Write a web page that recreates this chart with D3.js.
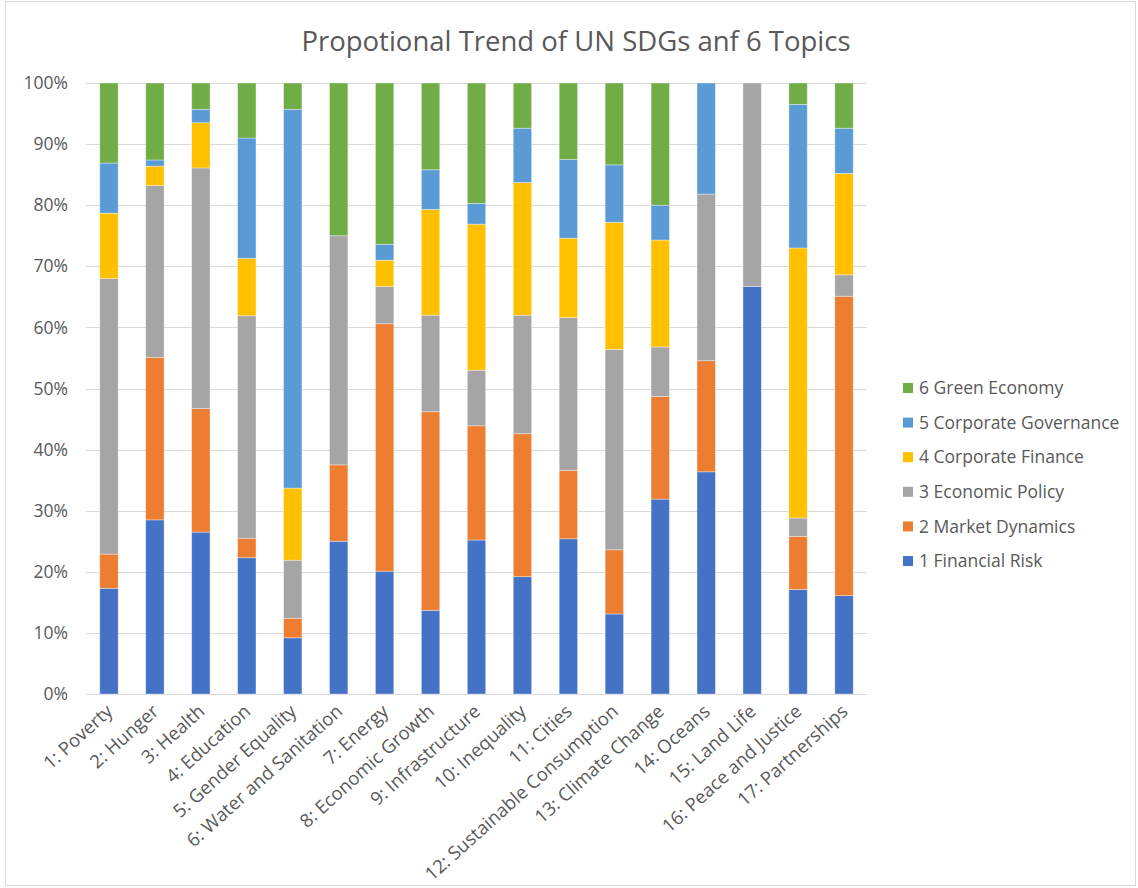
<!DOCTYPE html>
<html>
<head>
<meta charset="utf-8">
<script src="https://cdn.jsdelivr.net/npm/d3@7"></script>
<style>
  html, body { margin: 0; padding: 0; background: #fff; }
  svg { display: block; }
  text { font-family: "Open Sans", "Noto Sans", sans-serif; fill: #595959; }
</style>
</head>
<body>
<svg id="chart" width="1138" height="888"></svg>
<script>
// SDG categories along the x axis
const goals = [
  "1: Poverty", "2: Hunger", "3: Health", "4: Education", "5: Gender Equality",
  "6: Water and Sanitation", "7: Energy", "8: Economic Growth", "9: Infrastructure",
  "10: Inequality", "11: Cities", "12: Sustainable Consumption", "13: Climate Change",
  "14: Oceans", "15: Land Life", "16: Peace and Justice", "17: Partnerships"
];

// Topic series, stacked bottom to top (share of each SDG, %)
const topics = [
  "1 Financial Risk", "2 Market Dynamics", "3 Economic Policy",
  "4 Corporate Finance", "5 Corporate Governance", "6 Green Economy"
];
const financialRisk    = [17.3, 28.5, 26.5, 22.3,  9.2, 25.0, 20.1, 13.7, 25.2, 19.2, 25.4, 13.1, 31.9, 36.4, 66.7, 17.1, 16.1];
const marketDynamics   = [ 5.6, 26.6, 20.2,  3.2,  3.2, 12.5, 40.5, 32.5, 18.7, 23.4, 11.2, 10.5, 16.8, 18.2,  0.0,  8.7, 49.0];
const economicPolicy   = [45.1, 28.1, 39.4, 36.4,  9.5, 37.5,  6.1, 15.8,  9.1, 19.4, 25.0, 32.8,  8.1, 27.3, 33.3,  3.0,  3.5];
const corporateFinance = [10.7,  3.2,  7.4,  9.4, 11.8,  0.0,  4.3, 17.3, 23.9, 21.7, 13.0, 20.8, 17.5,  0.0,  0.0, 44.2, 16.6];
const corporateGov     = [ 8.2,  1.0,  2.2, 19.7, 62.0,  0.0,  2.6,  6.5,  3.4,  8.9, 12.9,  9.4,  5.7, 18.2,  0.0, 23.5,  7.4];
const greenEconomy     = [13.1, 12.6,  4.3,  9.0,  4.3, 25.0, 26.4, 14.2, 19.7,  7.4, 12.5, 13.4, 20.0,  0.0,  0.0,  3.5,  7.4];

const yTicks = [0, 0.1, 0.2, 0.3, 0.4, 0.5, 0.6, 0.7, 0.8, 0.9, 1.0];
const colors = ["#4472C4", "#ED7D31", "#A5A5A5", "#FFC000", "#5B9BD5", "#70AD47"];
const title = "Propotional Trend of UN SDGs anf 6 Topics";

const seriesValues = [financialRisk, marketDynamics, economicPolicy, corporateFinance, corporateGov, greenEconomy];
const rows = goals.map((g, i) => {
  const r = { goal: g };
  topics.forEach((t, k) => { r[t] = seriesValues[k][i]; });
  return r;
});

const svg = d3.select("#chart");
const W = 1138, H = 888;
const plot = { left: 86, right: 867, top: 83, bottom: 694 };
const fontFamily = '"Open Sans", "Noto Sans", sans-serif';

// outer chart border
svg.append("rect")
  .attr("x", 5.5).attr("y", 1.5)
  .attr("width", W - 8).attr("height", H - 4)
  .attr("fill", "none").attr("stroke", "#d9d9d9");

const x = d3.scaleBand().domain(goals).range([plot.left, plot.right]).paddingInner(0.6).paddingOuter(0.3);
const y = d3.scaleLinear().domain([0, 1]).range([plot.bottom, plot.top]);

const stacked = d3.stack().keys(topics).offset(d3.stackOffsetExpand)(rows);

// gridlines
svg.append("g")
  .selectAll("line")
  .data(yTicks)
  .join("line")
  .attr("x1", plot.left).attr("x2", plot.right)
  .attr("y1", d => Math.round(y(d)) + 0.5).attr("y2", d => Math.round(y(d)) + 0.5)
  .attr("stroke", "#d9d9d9").attr("stroke-width", 1);

// y axis labels
const yAxis = d3.axisLeft(y).tickValues(yTicks).tickFormat(d3.format(".0%")).tickSize(0).tickPadding(18);
svg.append("g")
  .attr("transform", `translate(${plot.left},0)`)
  .call(yAxis)
  .call(g => g.select(".domain").remove())
  .call(g => g.selectAll("text").attr("font-size", 17.5).attr("fill", "#595959")
    .style("font-family", fontFamily));

// stacked bars
svg.append("g")
  .selectAll("g")
  .data(stacked)
  .join("g")
  .attr("fill", (d, i) => colors[i])
  .selectAll("rect")
  .data(d => d)
  .join("rect")
  .attr("x", d => x(d.data.goal))
  .attr("width", x.bandwidth())
  .attr("y", d => y(d[1]))
  .attr("height", d => Math.max(0, y(d[0]) - y(d[1])))
  .attr("stroke", "rgba(255,255,255,0.45)")
  .attr("stroke-width", 0.8);

// x axis labels, rotated
const xAxis = d3.axisBottom(x).tickSize(0).tickPadding(0);
svg.append("g")
  .attr("transform", `translate(0,${plot.bottom})`)
  .call(xAxis)
  .call(g => g.select(".domain").remove())
  .call(g => g.selectAll("text")
    .attr("font-size", 18.5)
    .attr("fill", "#595959")
    .style("font-family", fontFamily)
    .attr("text-anchor", "end")
    .attr("dy", 0)
    .attr("y", 0)
    .attr("transform", "translate(5,19) rotate(-42)"));

// title
svg.append("text")
  .attr("x", 576).attr("y", 51)
  .attr("text-anchor", "middle")
  .attr("font-size", 27.5)
  .text(title);

// legend, top entry = last series
const legend = svg.append("g").attr("transform", "translate(903,388)");
const legendItems = topics.slice().reverse();
legend.selectAll("g")
  .data(legendItems)
  .join("g")
  .attr("transform", (d, i) => `translate(0,${i * 34.6})`)
  .each(function (d) {
    const k = topics.indexOf(d);
    const g = d3.select(this);
    g.append("rect").attr("x", 0).attr("y", -5).attr("width", 10).attr("height", 10).attr("fill", colors[k]);
    g.append("text").attr("x", 16).attr("y", 0).attr("dy", "0.35em").attr("font-size", 17.5).text(d);
  });
</script>
</body>
</html>
